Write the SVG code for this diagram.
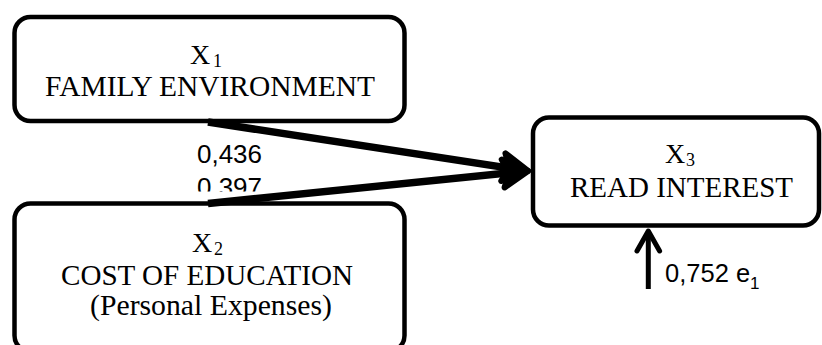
<svg xmlns="http://www.w3.org/2000/svg" width="822" height="345" viewBox="0 0 822 345">
  <style>
    .box { fill: #ffffff; stroke: #000000; stroke-width: 4.5; }
    .t { font-family: "Liberation Serif", "Times New Roman", serif; font-size: 29.5px; fill: #000; }
    .xv { font-family: "Liberation Serif", "Times New Roman", serif; font-size: 28px; fill: #000; }
    .sub { font-family: "Liberation Serif", "Times New Roman", serif; font-size: 18px; fill: #000; }
    .lbl { font-family: "Liberation Sans", Arial, sans-serif; font-size: 25.5px; fill: #000; }
    .conn { stroke: #000; stroke-width: 7.5; fill: none; }
  </style>
  <defs>
    <marker id="head" markerUnits="userSpaceOnUse" orient="auto" refX="0" refY="0" markerWidth="40" markerHeight="40" overflow="visible">
      <path d="M-10,-14 L15,0 L-10,14 L-4,0 Z" fill="#000" stroke="#000" stroke-width="6" stroke-linejoin="round"/>
    </marker>
    <clipPath id="clip397">
      <rect x="150" y="150" width="200" height="41.5"/>
    </clipPath>
  </defs>

  <g id="node-x1">
    <rect class="box" x="14.5" y="17" width="390" height="104" rx="16"/>
    <text class="xv" x="190" y="63.5">X</text>
    <text class="sub" x="213" y="66.5">1</text>
    <text class="t" x="45" y="95.5" textLength="330" lengthAdjust="spacingAndGlyphs">FAMILY ENVIRONMENT</text>
  </g>

  <g id="node-x2">
    <rect class="box" x="14.5" y="203.5" width="390" height="148" rx="16"/>
    <text class="xv" x="192" y="252">X</text>
    <text class="sub" x="214" y="255">2</text>
    <text class="t" x="61" y="285" textLength="292" lengthAdjust="spacingAndGlyphs">COST OF EDUCATION</text>
    <text class="t" x="90" y="315" textLength="242" lengthAdjust="spacingAndGlyphs">(Personal Expenses)</text>
  </g>

  <g id="node-x3">
    <rect class="box" x="533" y="117.5" width="286" height="108" rx="16"/>
    <text class="xv" x="665" y="163">X</text>
    <text class="sub" x="686" y="166">3</text>
    <text class="t" x="570" y="196.5" textLength="223" lengthAdjust="spacingAndGlyphs">READ INTEREST</text>
  </g>

  <g id="connectors">
    <line class="conn" x1="208" y1="122" x2="513.2" y2="168.7" marker-end="url(#head)"/>
    <line class="conn" x1="208" y1="203.5" x2="513.1" y2="172.5" marker-end="url(#head)"/>
    <line x1="648.3" y1="289" x2="648.3" y2="234" stroke="#000" stroke-width="5"/>
    <path d="M637,251 L648.3,231 L659.6,251" fill="none" stroke="#000" stroke-width="5" stroke-linecap="round" stroke-linejoin="round"/>
  </g>

  <g id="labels">
    <text class="lbl" x="197" y="162.5" textLength="65" lengthAdjust="spacingAndGlyphs">0,436</text>
    <text class="lbl" x="197" y="196" textLength="65" lengthAdjust="spacingAndGlyphs" clip-path="url(#clip397)">0,397</text>
    <text class="lbl" x="665" y="281.5">0,752 e<tspan font-size="17" dy="7">1</tspan></text>
  </g>
</svg>
